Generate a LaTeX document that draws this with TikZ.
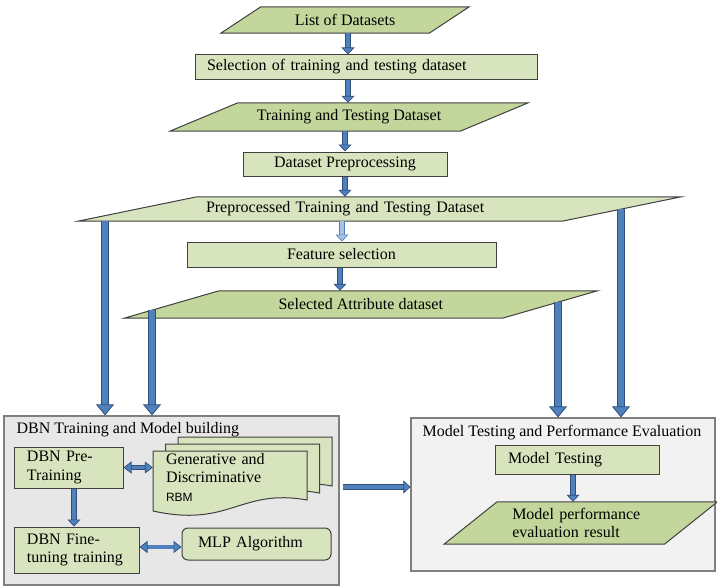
\documentclass[tikz,border=0pt]{standalone}
\usepackage{fontspec}
\setmainfont{Liberation Serif}
\setsansfont{Liberation Sans}
\usepackage{xcolor}
\usepackage{tikz}
\usetikzlibrary{arrows.meta, positioning, calc, backgrounds}

\definecolor{procgreen}{HTML}{D7E4BD}
\definecolor{datagreen}{HTML}{C3D69B}
\definecolor{edgegray}{HTML}{404040}
\definecolor{arrowblue}{HTML}{4F81BD}
\definecolor{arrowedge}{HTML}{2F4F7A}
\definecolor{lightblue}{HTML}{A9C2E0}
\definecolor{groupgray}{HTML}{E7E7E7}
\definecolor{grouplight}{HTML}{F2F2F2}
\definecolor{groupedge}{HTML}{7F7F7F}

\begin{document}
\begin{tikzpicture}[
    x=1pt, y=-1pt,
    font=\fontsize{16}{18.5}\selectfont,
    process/.style={rectangle, draw=edgegray, fill=procgreen, line width=1pt, inner sep=0pt},
    datatext/.style={rectangle, inner sep=0pt},
    datashape/.style={draw=edgegray, fill=datagreen, line width=1pt},
    group/.style={rectangle, draw=groupedge, line width=1.2pt, inner sep=0pt},
    arrow/.style={draw=arrowedge, line width=0.7pt, double=arrowblue, double distance=4pt, -{Triangle[length=7pt, width=13pt, fill=arrowblue]}},
    lightarrow/.style={draw=arrowblue, line width=0.7pt, double=lightblue, double distance=4pt, -{Triangle[length=7pt, width=13pt, fill=lightblue]}},
    bigarrow/.style={draw=arrowedge, line width=0.8pt, double=arrowblue, double distance=6pt, -{Triangle[length=11pt, width=18pt, fill=arrowblue]}},
    twoway/.style={draw=arrowedge, line width=0.7pt, double=arrowblue, double distance=3.5pt, {Triangle[length=8pt, width=12pt, fill=arrowblue]}-{Triangle[length=8pt, width=12pt, fill=arrowblue]}}
]
\useasboundingbox (0,0) rectangle (717,586);

% the two blocks at the bottom
\begin{scope}[on background layer]
\node (dbn) [group, fill=groupgray, minimum width=335pt, minimum height=169pt,
    label={[anchor=north west, inner sep=0pt, xshift=13pt, yshift=-7pt]north west:DBN Training and Model building}] at (171.5,500.5) {};
\node (mteval) [group, fill=grouplight, minimum width=304pt, minimum height=153pt,
    label={[anchor=north west, inner sep=0pt, xshift=12pt, yshift=-8pt]north west:Model Testing and Performance Evaluation}] at (563,494.5) {};
\end{scope}

% main flow
\node (lists) [datatext, minimum width=208pt, minimum height=26pt] at (345,20) {List of Datasets};
\node (seltt) [process, minimum height=24pt, text width=318pt, inner xsep=12pt, align=left] at (366,67) {Selection of training and testing dataset};
\node (trds) [datatext, minimum width=290pt, minimum height=28pt] at (349,117) {Training and Testing Dataset};
\node (prep) [process, minimum width=204pt, minimum height=24pt] at (345,164) {Dataset Preprocessing};
\node (pptd) [datatext, minimum height=24pt, text width=347pt, inner xsep=68.5pt, align=left] at (379.5,209) {Preprocessed Training and Testing Dataset};
\node (featsel) [process, minimum width=309pt, minimum height=25pt] at (341.5,254.5) {Feature selection};
\node (selattr) [datatext, minimum width=378pt, minimum height=27pt] at (360.75,304.5) {Selected Attribute dataset};

% DBN block
\node (pretr) [process, minimum height=41pt, text width=83pt, inner xsep=13pt, align=left] at (68.5,467.5) {DBN Pre-\\Training};
\node (finetr) [process, minimum height=46pt, text width=99pt, inner xsep=13pt, align=left] at (76.5,550) {DBN Fine-\\tuning training};
\node (gdrbm) [datatext, minimum height=52pt, text width=128pt, inner xsep=13pt, align=left] at (230,477) {Generative and\\Discriminative\\{\sffamily\fontsize{12}{14}\selectfont RBM}};
\node (mlp) [process, rounded corners=6pt, minimum height=32pt, text width=117pt, inner xsep=16pt, align=left] at (256.5,544) {MLP Algorithm};

% testing block
\node (mtest) [process, minimum height=29pt, text width=138pt, inner xsep=13pt, align=left] at (577,459.5) {Model Testing};
\node (mperf) [datatext, minimum height=42pt, text width=137pt, inner xsep=41.5pt, align=left] at (580.75,523) {Model performance\\evaluation result};

% parallelograms and stacked pages behind the texts
\begin{scope}[on background layer]
\foreach \n/\s/\c in {lists/20/datagreen, trds/34/datagreen, pptd/59.5/procgreen, selattr/47.5/datagreen, mperf/26.5/datagreen}
    \draw [datashape, fill=\c] ([xshift=-\s pt]\n.south west) -- ([xshift=-\s pt]\n.south east)
        -- ([xshift=\s pt]\n.north east) -- ([xshift=\s pt]\n.north west) -- cycle;
\foreach \d in {2,1,0}
    \draw [datashape, fill=procgreen, shift={(12.5*\d,-7*\d)}] (153,451) -- (307,451) -- (307,500)
        .. controls (240,488) and (230,528) .. (153,511) -- cycle;
\end{scope}

\draw [arrow] (lists.south -| 348,0) -- (seltt.north -| 348,0);
\draw [arrow] (seltt.south -| 348,0) -- (trds.north -| 348,0);
\draw [arrow] (trds.south -| 345,0) -- (prep.north -| 345,0);
\draw [arrow] (prep.south -| 345,0) -- (pptd.north -| 345,0);
\draw [lightarrow] (pptd.south -| 342,0) -- (featsel.north -| 342,0);
\draw [arrow] (featsel.south -| 340,0) -- (selattr.north -| 340,0);

\draw [bigarrow] (pptd.south -| 105,0) -- (dbn.north -| 105,0);
\draw [bigarrow] ($(selattr.south -| 152,0)+(0,-8)$) -- (dbn.north -| 152,0);
\draw [bigarrow] ($(selattr.south -| 558,0)+(0,-16)$) -- (mteval.north -| 558,0);
\draw [bigarrow] ($(pptd.south -| 621,0)+(0,-12)$) -- (mteval.north -| 621,0);
\draw [arrow] ($(dbn.east)+(3,-13.5)$) -- ($(mteval.west)+(0,-7.5)$);

\draw [twoway] (pretr.east) -- (pretr.east -| gdrbm.west);
\draw [arrow] (pretr.south -| 74,0) -- (finetr.north -| 74,0);
\draw [twoway] (finetr.east |- 0,547) -- (mlp.west |- 0,547);
\draw [arrow] (mtest.south -| 573,0) -- (mperf.north -| 573,0);

\end{tikzpicture}
\end{document}
